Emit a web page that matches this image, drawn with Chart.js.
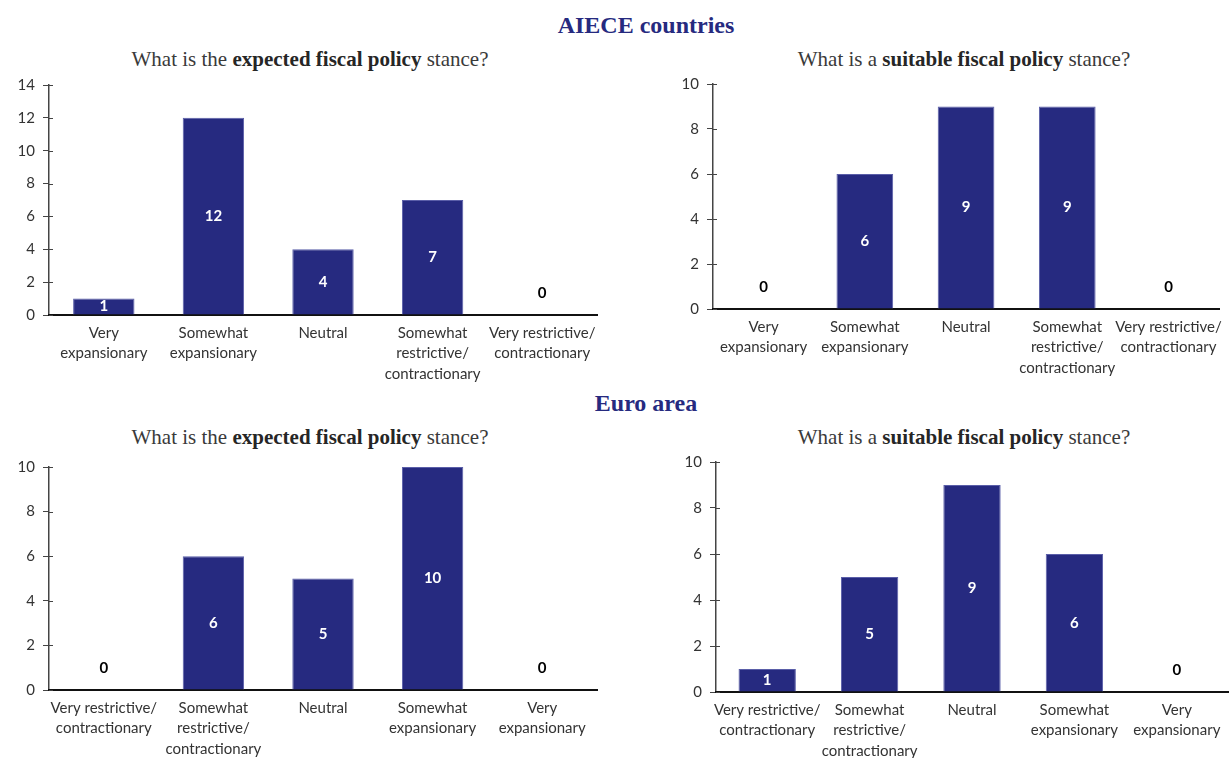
<!DOCTYPE html>
<html>
<head>
<meta charset="utf-8">
<script src="https://cdn.jsdelivr.net/npm/chart.js@4"></script>
<style>
    body { margin: 0; background: #fff; width: 1230px; height: 758px; position: relative; overflow: hidden; }
    canvas { position: absolute; }
    .head { position: absolute; transform: translate(-50%, -50%); white-space: nowrap;
        font-family: 'Liberation Serif', serif; font-weight: bold; font-size: 24px; color: #262a7f; }
    .title { position: absolute; transform: translate(-50%, -50%); white-space: nowrap;
        font-family: 'Liberation Serif', serif; font-size: 21px; color: #3a3a3a; }
    .title b { color: #262626; }
</style>
</head>
<body>
<div class="head" style="left:646px; top:25px;">AIECE countries</div>
<div class="head" style="left:646px; top:403px;">Euro area</div>

<div class="title" style="left:310px; top:59px;">What is the <b>expected fiscal policy</b> stance?</div>
<div class="title" style="left:964px; top:59px;">What is a <b>suitable fiscal policy</b> stance?</div>
<div class="title" style="left:310px; top:437px;">What is the <b>expected fiscal policy</b> stance?</div>
<div class="title" style="left:964px; top:437px;">What is a <b>suitable fiscal policy</b> stance?</div>

<canvas id="aiece-expected" width="615" height="316" style="left:0; top:68px;"></canvas>
<canvas id="aiece-suitable" width="615" height="317" style="left:615px; top:67px;"></canvas>
<canvas id="euro-expected" width="615" height="308" style="left:0; top:450px;"></canvas>
<canvas id="euro-suitable" width="615" height="313" style="left:615px; top:445px;"></canvas>

<script>
// Categories
var expansionFirst = [['Very', 'expansionary'], ['Somewhat', 'expansionary'], 'Neutral',
    ['Somewhat', 'restrictive/', 'contractionary'], ['Very restrictive/', 'contractionary']];
var restrictiveFirst = [['Very restrictive/', 'contractionary'], ['Somewhat', 'restrictive/', 'contractionary'],
    'Neutral', ['Somewhat', 'expansionary'], ['Very', 'expansionary']];

// Number of answers
var aieceExpected = [1, 12, 4, 7, 0];
var aieceSuitable = [0, 6, 9, 9, 0];
var euroExpected = [0, 6, 5, 10, 0];
var euroSuitable = [1, 5, 9, 6, 0];

// Y axis maximum
var aieceExpectedMax = 14;
var otherMax = 10;

var barColor = '#262a80';

// value labels: white inside the bar, black above the axis for zero
var valueLabels = {
    id: 'valueLabels',
    afterDatasetsDraw: function (chart) {
        var ctx = chart.ctx;
        var meta = chart.getDatasetMeta(0);
        var values = chart.data.datasets[0].data;
        ctx.save();
        ctx.font = 'bold 15px Lato';
        ctx.textAlign = 'center';
        ctx.textBaseline = 'middle';
        meta.data.forEach(function (bar, i) {
            if (values[i] > 0) {
                ctx.fillStyle = '#ffffff';
                ctx.fillText(values[i], bar.x, (bar.y + bar.base) / 2);
            } else {
                ctx.fillStyle = '#000000';
                ctx.fillText(values[i], bar.x, bar.base - 22);
            }
        });
        ctx.restore();
    }
};

// small tick marks that cross the y axis line
var crossTicks = {
    id: 'crossTicks',
    afterDraw: function (chart) {
        var ctx = chart.ctx;
        var y = chart.scales.y;
        ctx.save();
        ctx.strokeStyle = '#444';
        ctx.lineWidth = 1;
        y.ticks.forEach(function (t) {
            var py = Math.round(y.getPixelForValue(t.value)) + 0.5;
            ctx.beginPath();
            ctx.moveTo(y.right, py);
            ctx.lineTo(y.right + 4, py);
            ctx.stroke();
        });
        ctx.restore();
    }
};

function makeChart(id, labels, values, max, yWidth, xHeight, padRight) {
    var ctx = document.getElementById(id).getContext('2d');
    return new Chart(ctx, {
        type: 'bar',
        data: {
            labels: labels,
            datasets: [{
                data: values,
                backgroundColor: barColor,
                borderColor: '#5a5ea8',
                borderWidth: 1,
                categoryPercentage: 1,
                barPercentage: 0.56,
            }],
        },
        options: {
            responsive: false,
            animation: false,
            layout: { padding: { top: 4, right: padRight, left: 0, bottom: 0 } },
            plugins: {
                legend: { display: false },
                tooltip: { enabled: false },
            },
            scales: {
                y: {
                    min: 0,
                    max: max,
                    ticks: { stepSize: 2, color: '#333', font: { family: 'Lato', size: 15 }, padding: 8 },
                    grid: { drawOnChartArea: false, tickLength: 6, color: '#444' },
                    border: { color: '#444', width: 1.5 },
                    afterFit: function (scale) { scale.width = yWidth; },
                },
                x: {
                    ticks: { color: '#333', font: { family: 'Lato', size: 15, lineHeight: 1.36 }, padding: 8, maxRotation: 0, autoSkip: false },
                    grid: { display: false, drawTicks: false },
                    border: { color: '#111', width: 2 },
                    afterFit: function (scale) { scale.height = xHeight; },
                },
            },
        },
        plugins: [valueLabels, crossTicks],
    });
}

makeChart('aiece-expected', expansionFirst, aieceExpected, aieceExpectedMax, 49, 69, 18);
makeChart('aiece-suitable', expansionFirst, aieceSuitable, otherMax, 98, 75, 2);
makeChart('euro-expected', restrictiveFirst, euroExpected, otherMax, 49, 68, 18);
makeChart('euro-suitable', restrictiveFirst, euroSuitable, otherMax, 101, 66, 2);
</script>
</body>
</html>
